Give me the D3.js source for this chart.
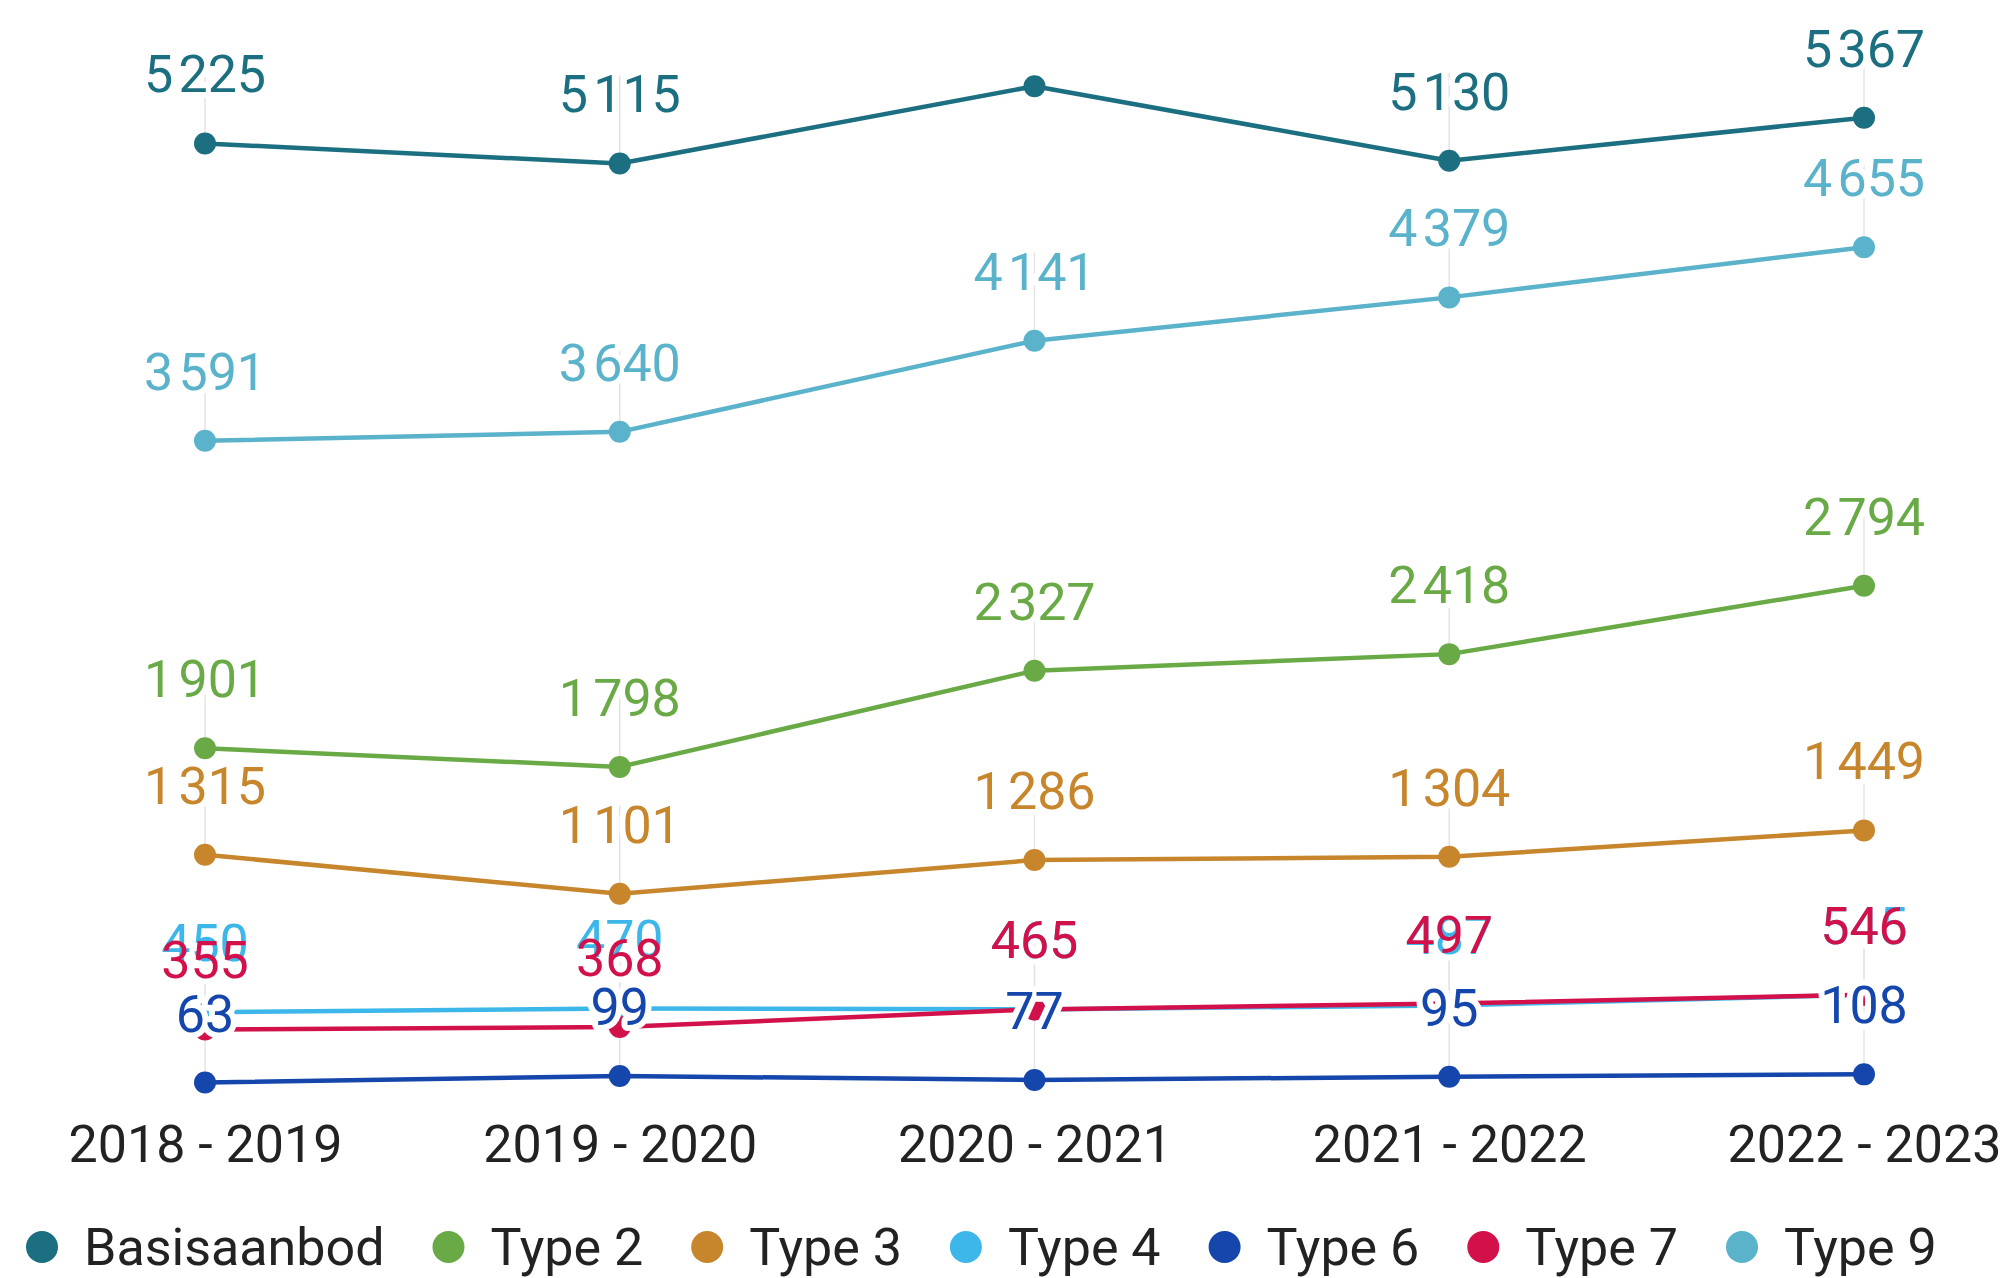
<!DOCTYPE html>
<html>
<head>
<meta charset="utf-8">
<script src="https://cdn.jsdelivr.net/npm/d3@7"></script>
<style>
  html, body { margin: 0; padding: 0; background: #fff; }
  svg { display: block; font-family: Roboto, "Noto Sans", sans-serif; }
</style>
</head>
<body>
<svg id="chart" width="2009" height="1278"></svg>
<script>
// ---- data ----
const categories = ["2018 - 2019", "2019 - 2020", "2020 - 2021", "2021 - 2022", "2022 - 2023"];
const seriesNames = ["Basisaanbod", "Type 2", "Type 3", "Type 4", "Type 6", "Type 7", "Type 9"];
const basisaanbod = [5225, 5115, 5540, 5130, 5367];
const type2 = [1901, 1798, 2327, 2418, 2794];
const type3 = [1315, 1101, 1286, 1304, 1449];
const type4 = [450, 470, 465, 487, 545];
const type6 = [63, 99, 77, 95, 108];
const type7 = [355, 368, 465, 497, 546];
const type9 = [3591, 3640, 4141, 4379, 4655];
const seriesColors = ["#1b6f80", "#69aa46", "#c7862c", "#3db7ea", "#1446ab", "#d2114b", "#5ab2cb"];

const seriesValues = [basisaanbod, type2, type3, type4, type6, type7, type9];
const series = seriesNames.map((name, i) => ({
  name, color: seriesColors[i],
  values: seriesValues[i].map((v, j) => ({cat: categories[j], v}))
}));

// ---- layout ----
const svg = d3.select("#chart");
const x = d3.scalePoint().domain(categories).range([205, 1864]);
const y = d3.scaleLinear().domain([0, 6000]).range([1094, 2.5]);
const locale = d3.formatLocale({decimal: ",", thousands: "\u200A", grouping: [3], currency: ["", ""]});
const fmt = locale.format(",d");

const fontSize = 52;
const labelOffset = 51;   // baseline above point
const capH = 37;

const gLeaders = svg.append("g");
const gLines = svg.append("g");
const gDots = svg.append("g");
const gLabels = svg.append("g");

const line = d3.line().x(d => x(d.cat)).y(d => y(d.v));

// leader lines
series.forEach(s => {
  s.values.forEach(d => {
    const ly = y(d.v) - labelOffset - capH;
    if (ly < 0) return;
    gLeaders.append("line")
      .attr("x1", x(d.cat)).attr("x2", x(d.cat))
      .attr("y1", ly).attr("y2", y(d.v))
      .attr("stroke", "#e4e4e4").attr("stroke-width", 1.5);
  });
});

series.forEach(s => {
  gLines.append("path").datum(s.values)
    .attr("d", line).attr("fill", "none")
    .attr("stroke", s.color).attr("stroke-width", 4.5)
    .attr("stroke-linejoin", "round");
  gDots.selectAll(null).data(s.values).join("circle")
    .attr("cx", d => x(d.cat)).attr("cy", d => y(d.v))
    .attr("r", 11).attr("fill", s.color);
});

// labels: draw order so Type 7 sits above Type 4, Type 6 above lines
const labelOrder = ["Basisaanbod", "Type 2", "Type 3", "Type 9", "Type 4", "Type 7", "Type 6"];
labelOrder.forEach(name => {
  const s = series.find(t => t.name === name);
  s.values.forEach(d => {
    const by = y(d.v) - labelOffset;
    if (by - capH < 0) return; // would fall outside the chart
    const t = gLabels.append("text")
      .attr("x", x(d.cat)).attr("y", by)
      .attr("text-anchor", "middle")
      .attr("font-size", fontSize)
      .attr("fill", s.color)
      .text(fmt(d.v));
    t.clone(true).lower()
      .attr("fill", "#fff").attr("stroke", "#fff")
      .attr("stroke-width", 12).attr("stroke-linejoin", "round");
  });
});

// x axis labels
const xAxis = d3.axisBottom(x).tickSize(0).tickPadding(0);
const gx = svg.append("g").attr("transform", "translate(0,1125)").call(xAxis);
gx.select(".domain").remove();
gx.selectAll("text")
  .attr("font-size", fontSize)
  .attr("font-family", "Roboto, 'Noto Sans', sans-serif")
  .attr("fill", "#222")
  .attr("dy", "0.71em");

// legend
const legend = svg.append("g").attr("transform", "translate(0,1247)");
let lx = 42;
series.forEach(s => {
  legend.append("circle").attr("cx", lx).attr("cy", 0).attr("r", 16).attr("fill", s.color);
  const t = legend.append("text")
    .attr("x", lx + 42).attr("y", 0).attr("dy", "0.355em")
    .attr("font-size", fontSize).attr("fill", "#222")
    .text(s.name);
  const w = t.node().getComputedTextLength();
  lx = lx + 42 + w + 64;
});
</script>
</body>
</html>
